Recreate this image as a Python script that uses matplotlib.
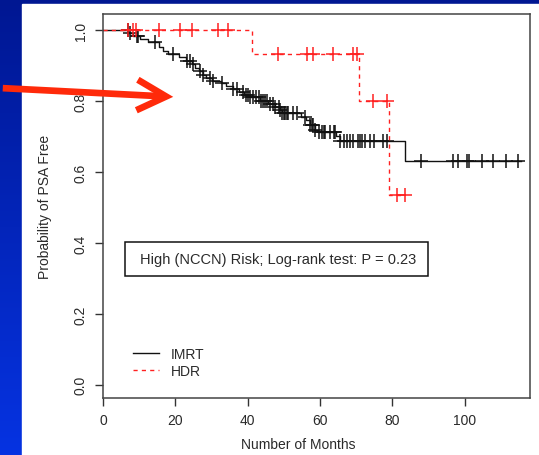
import numpy as np
import matplotlib.pyplot as plt
from matplotlib.patches import Rectangle, FancyArrowPatch
from matplotlib.lines import Line2D

plt.rcParams['font.family'] = ['Liberation Sans', 'DejaVu Sans']

# IMRT arm: event times (months) and survival after each event
imrt_times = [7.0, 8.4, 10.2, 12.5, 15.5, 16.5, 18.0, 21.0, 23.0, 24.5, 25.5, 26.5,
              27.5, 28.5, 30.0, 32.5, 34.0, 36.0, 37.5, 39.0, 40.5, 43.5, 45.5, 47.5,
              48.8, 49.5, 54.8, 56.0, 57.3, 58.5, 59.5, 64.4, 65.4, 83.5]
imrt_surv = [0.992, 0.984, 0.975, 0.966, 0.952, 0.942, 0.933, 0.924, 0.913, 0.903, 0.893, 0.883,
             0.873, 0.864, 0.857, 0.850, 0.842, 0.834, 0.825, 0.817, 0.810, 0.800, 0.791, 0.782,
             0.774, 0.766, 0.756, 0.745, 0.732, 0.718, 0.712, 0.700, 0.688, 0.632]
imrt_end = 115.5
imrt_cens = [6.9, 7.5, 9.4, 9.7, 14.4, 19.4, 23.2, 24.1, 24.9, 26.8, 27.7, 29.6, 30.4, 32.9,
             36.0, 37.1, 38.7, 39.6, 40.1, 40.7, 41.5, 42.3, 43.2, 43.7, 44.3, 44.8, 45.3,
             46.2, 47.1, 47.6, 48.5, 49.0, 49.6, 50.0, 50.4, 50.8, 51.2, 52.6, 53.6, 55.9,
             57.3, 57.7, 58.1, 58.6, 59.6, 60.5, 61.0, 61.4, 62.8, 63.7, 64.2, 65.6, 66.5,
             67.4, 68.3, 69.2, 70.6, 71.1, 71.6, 72.5, 73.9, 74.8, 77.5, 78.5, 88.0, 96.8,
             98.2, 100.7, 101.2, 104.6, 107.9, 111.5, 114.8]

# HDR arm
hdr_times = [41.2, 70.8, 79.1]
hdr_surv = [0.933, 0.800, 0.534]
hdr_end = 83.5
hdr_cens = [7.0, 8.4, 9.1, 15.5, 21.4, 24.5, 31.9, 34.5, 48.4, 56.4, 58.1, 63.6, 69.2,
            70.3, 74.7, 78.6, 81.3, 83.5]

xticks = [0, 20, 40, 60, 80, 100]
yticks = [0.0, 0.2, 0.4, 0.6, 0.8, 1.0]
label_imrt = 'IMRT'
label_hdr = 'HDR'
note = 'High (NCCN) Risk; Log-rank test: P = 0.23'

W, H = 539, 456
fig = plt.figure(figsize=(W / 100, H / 100), dpi=100)

# blue slide background + white panel
bg = fig.add_axes([0, 0, 1, 1])
grad = np.linspace(0, 1, 256)[:, None]
top = np.array([0x00, 0x17, 0x92]) / 255
bot = np.array([0x06, 0x33, 0xe2]) / 255
img = top + (bot - top) * grad[:, :, None] * np.ones((1, 2, 1))
bg.imshow(img, aspect='auto', extent=[0, 1, 0, 1], origin='upper')
bg.add_patch(Rectangle((22 / W, 0), 1, 1 - 5 / H, color='white', zorder=2))
bg.set_xlim(0, 1)
bg.set_ylim(0, 1)
bg.axis('off')

ax = fig.add_axes([103 / W, (H - 399) / H, 427 / W, 384 / H])
ax.set_facecolor('white')


def km(times, surv, end, cens, color, ls):
    x = np.r_[0, times, end]
    y = np.r_[1, surv, surv[-1]]
    ax.step(x, y, where='post', color=color, lw=1.0, ls=ls)
    idx = np.searchsorted(times, cens, side='right')
    cy = np.r_[1, surv][idx]
    ax.plot(cens, cy, ls='none', marker='+', ms=9.5, mew=1.1, color=color)


km(imrt_times, imrt_surv, imrt_end, imrt_cens, '#111111', '-')
km(hdr_times, hdr_surv, hdr_end, hdr_cens, '#ff2020', (0, (3, 3)))

ax.set_xlim(0, 118)
ax.set_ylim(-0.037, 1.045)
ax.set_xticks(xticks)
ax.set_yticks(yticks)
ax.set_xticklabels([str(t) for t in xticks])
ax.set_yticklabels(['%.1f' % t for t in yticks], rotation=90, va='center')
ax.tick_params(direction='out', length=6, width=1, color='#333333', labelcolor='#2a2a2a',
               labelsize=10, pad=5)
for s in ax.spines.values():
    s.set_color('#444444')
    s.set_linewidth(1.1)

fig.text(298 / W, 1 - 445 / H, 'Number of Months', ha='center', va='center',
         fontsize=10, color='#2a2a2a')
fig.text(45 / W, 1 - 207 / H, 'Probability of PSA Free', ha='center', va='center',
         rotation=90, fontsize=10, color='#2a2a2a')

# note box
ax.add_patch(Rectangle((0.0515, 0.318), 0.7095, 0.088, transform=ax.transAxes,
                       fill=False, ec='#111111', lw=1.1))
ax.text(0.41, 0.362, note, transform=ax.transAxes, ha='center', va='center',
        fontsize=10.5, color='#2a2a2a')

handles = [Line2D([], [], color='#111111', lw=1.0),
           Line2D([], [], color='#ff2020', lw=1.0, ls=(0, (3, 3)))]
ax.legend(handles, [label_imrt, label_hdr], loc='center left',
          bbox_to_anchor=(0.07, 0.0925), frameon=False, fontsize=10,
          handlelength=1.9, handletextpad=0.8, labelspacing=0.25,
          borderpad=0, borderaxespad=0, labelcolor='#2a2a2a')

# red arrow annotation
arr = FancyArrowPatch((0, 1 - 89 / H), (176 / W, 1 - 98 / H), transform=fig.transFigure,
                      arrowstyle='->,head_length=0.95,head_width=0.5', mutation_scale=22,
                      lw=4.8, color='#ff2a0a', capstyle='butt', joinstyle='miter')
fig.patches.append(arr)

fig.savefig('out.png', dpi=100)
